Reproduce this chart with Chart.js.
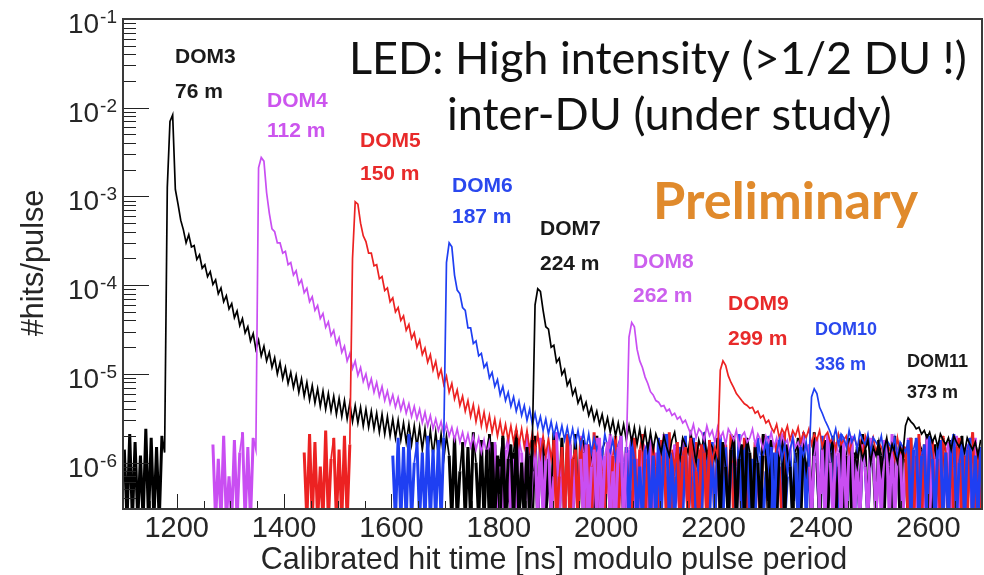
<!DOCTYPE html>
<html><head><meta charset="utf-8">
<script src="https://cdn.jsdelivr.net/npm/chart.js@4.4.1/dist/chart.umd.min.js"></script>
<style>html,body{margin:0;padding:0;background:#fff;overflow:hidden}</style>
</head><body>
<canvas id="c" width="984" height="575"></canvas>
<script>
// ---------------- DATA ----------------
const BIN_NS = 5;          // histogram bin width [ns]
const UNIT = 1e-7;         // values below are in units of 1e-7 hits/pulse
const EMPTY_BIN = 2.2e-7;  // drawn value for empty bins (just below the axis)
const domNames = ['DOM3','DOM4','DOM5','DOM6','DOM7','DOM8','DOM9','DOM10','DOM11'];
const domDistances = ['76 m','112 m','150 m','187 m','224 m','262 m','299 m','336 m','373 m'];
const domStartNs = [1100,1265,1435,1600,1775,1950,2120,2290,2460];
const xTickValues = [1200,1400,1600,1800,2000,2200,2400,2600];
const yTickExponents = [-1,-2,-3,-4,-5,-6];

const dom3 = [14,0,21,0,17,0,12,0,24,0,19,0,15,0,20,13,
12600,70000,83000,12000,
8200,5400,4200,3000,3700,2700,2800,1950,2200,1550,1700,1250,1420,1020,1150,800,930,650,760,540,620,430,510,350,420,290,340,235,285,190,240,160,205,140,175,118,152,100,134,88,118,78,104,70,96,62,88,56,80,51,74,47,68,43,64,40,60,38,56,35,53,33,50,31,47,29,44,28,42,26,40,25,38,24,36,22,35,21,33,20,31,19,30,18,28,17,27,16,26,15,25,14,24,13,23,12,22,12,21,11,20,
12,0,20,0,8,17,0,15,0,22,10,0,18,0,14,21,0,16,0,11,19,0,7,0,13,23,0,9,0,17,12,0,20,0,15,18,0,11,0,22,14,0,19,0,13,16,0,21,0,12,18,0,10,15,0,20,0,14,17];

const dom4 = [16,0,11,0,20,0,7,0,18,0,13,22,0,15,0,19,14,
21000,27500,25000,11000,
6500,4300,4000,3000,3000,2300,2400,1700,1800,1300,1450,1020,1150,820,920,650,740,520,590,420,480,335,385,270,310,215,255,175,205,140,170,115,140,96,118,82,100,70,88,62,80,56,72,50,64,46,58,42,54,39,50,36,46,33,43,31,40,28,37,26,34,24,31,23,29,21,27,20,25,18,24,17,22,16,21,15,20,14,19,13,18,12,17,11,
17,0,9,0,14,20,0,11,0,18,13,0,21,0,8,15,0,19,0,12,16,0,7,22,0,10,0,14,18,0,11,0,20,13,0,16,0,9,19,0,12,0,15,21,0,13,0,18,10,0,14,20,0,11,0,17,15,0,19,0,13,0,9,21,0,12,0,16,8,0,18,14,0,22,0];

const dom5 = [13,0,21,0,17,0,9,0,23,0,11,19,0,14,0,20,0,16,
2000,8700,8200,
5000,3600,3100,2300,2300,1650,1700,1180,1250,870,930,650,720,500,560,400,450,310,360,250,290,200,240,165,195,135,165,110,138,92,112,76,94,62,78,52,66,44,56,38,50,33,45,29,41,26,37,24,34,22,31,20,29,19,27,18,26,17,25,16,24,15,23,14,22,13,21,12,20,12,19,11,
18,0,7,15,0,21,0,11,14,0,19,0,9,16,0,22,0,13,8,0,17,0,12,20,0,10,0,15,6,0,19,0,14,21,0,11,0,16,9,0,18,13,0,22,0,7,15,0,12,19,0,10,0,17,14,0,20,0,8,13,0,18,0,11,16,0,21,0,9,15,0,19,0,12,0,17,6,0,20,14,0,11,0,18,9,0,22];

const dom6 = [12,0,19,0,15,0,21,0,10,17,0,13,0,20,0,14,0,18,0,19,
1800,3000,2700,
1300,880,800,560,520,330,330,220,235,160,170,118,132,90,104,72,86,58,72,50,62,43,55,38,49,34,44,30,40,27,36,25,33,23,31,21,29,20,27,19,26,18,25,17,24,16,23,15,22,14,21,13,
19,14,17,12,21,15,13,18,11,16,20,
0,15,0,18,11,0,9,0,14,17,0,12,0,19,0,16,21,0,13,0,10,15,0,20,0,7,19,0,11,0,22,12,0,17,0,13,20,0,15,0,10,18,0,21,0,14,16,0,11,0,19,12,0,8,20,0,13,0,18,10,0,7,14,0,12,0,16,22,0,13,0,17,11,0,20,0,15,18,0,12,0,21,14,0,10,16,0,13,0,17,9,0,15,20];

const dom7 = [14,0,17,0,12,0,20,0,11,16,0,19,0,10,0,15,0,18,
600,910,850,
520,340,320,200,210,135,150,98,112,74,86,58,68,47,56,40,48,34,42,30,38,27,35,24,32,22,30,20,28,19,27,18,26,17,25,16,24,15,23,14,22,14,21,
17,13,20,15,12,18,22,14,11,19,16,13,21,15,10,18,14,20,12,17,15,11,19,
0,17,9,0,14,20,0,11,16,0,19,13,0,15,10,0,21,12,0,18,7,0,14,20,0,16,9,0,13,19,0,17,8,15,0,22,10,0,14,18,0,13,20,0,9,16,0,12,19,0,11,15,0,21,14,0,17,10,0,18,12,0,16,9,0,20,13,0,15,11,0,19,8,0,17,14,0,21,12,0,16,10,0,19,13,0,18,15,0,11,20,0,14,9,0,17,12,0];

const dom8 = [11,0,16,0,9,14,0,19,0,12,17,0,8,0,15,20,0,13,
260,380,340,190,140,118,92,78,63,58,50,48,43,44,38,40,34,36,31,33,28,30,
25,21,27,19,24,22,18,26,20,23,17,25,19,22,16,24,21,18,23,15,20,22,17,19,24,16,21,18,14,20,17,22,15,19,13,21,16,18,12,20,15,17,13,19,14,
16,0,12,19,0,14,0,21,10,0,17,13,0,18,0,15,20,0,11,0,16,9,0,19,14,0,12,0,18,15,0,21,0,13,17,0,10,19,0,14,0,16,12,0,20,0,15,11,0,18,0,13,17,0,9,20,0,14,0,16,12,0,19,0,15];

const dom9 = [14,9,17,0,12,15,0,19,11,8,0,16,13,0,18,10,15,12,
110,140,125,95,80,70,60,55,50,46,44,41,42,36,38,32,34,28,30,
25,22,27,19,24,21,26,18,23,20,25,17,22,19,24,16,21,18,23,15,20,22,17,19,14,21,16,18,20,13,17,19,15,18,12,20,16,14,19,13,17,15,12,18,14,16,11,19,13,15,
15,0,19,0,12,21,0,16,0,14,18,0,11,0,20,13,0,17,0,15,19,0,12,0,16,22,0,14,0];

const dom10 = [12,17,9,15,0,13,18,11,16,8,14,19,10,0,15,12,17,9,
55,68,60,42,36,30,26,
22,18,24,16,21,19,15,23,17,20,14,22,18,16,21,13,19,17,15,20,12,18,16,14,19,11,17,15,13,18,
0,14,19,0,12,16,0,20,11,0,15,18,0,13,0,17,21,0,10,16,0,14,19,0,12,0,15];

const dom11 = [13,9,16,11,14,18,10,15,12,17,8,14,19,11,16,13,10,15,12,
26,32,29,27,24,25,21,23,
19,22,17,20,15,21,18,16,19,14,20,17,15,18,13,19,16,14,17,12,18];

const domSeries = [dom3,dom4,dom5,dom6,dom7,dom8,dom9,dom10,dom11];

// ---------------- STYLE ----------------
const X_MIN = 1100, X_MAX = 2700, Y_MIN = 3e-7, Y_MAX = 0.1;
const BLACK = '#000000', VIOLET = '#c94ef2', RED = '#ec2222', BLUE = '#1f3ff2';
const lineColors = [BLACK,VIOLET,RED,BLUE,BLACK,VIOLET,RED,BLUE,BLACK];
const labelColors = ['#1a1a1a','#cc55ee','#e82a2a','#2a48ee','#1a1a1a','#cc60ee','#e82a2a','#2a48ee','#1a1a1a'];
// annotation layout: left x, baseline of name, baseline of distance, font px
const labelLayout = [[175,63,98,21],[267,107,137,21],[360,147,180,21],[452,192,223,21],[540,235,270,21],[633,268,302,21],[728,310,345,21],[815,335,370,18],[907,367,398,18]];

const isEmpty = p => p.parsed.y <= EMPTY_BIN * 1.01;
const datasets = domSeries.map((vals, k) => ({
  label: domNames[k],
  data: vals.map((v, i) => ({ x: domStartNs[k] + (i + 0.5) * BIN_NS, y: v > 0 ? v * UNIT : EMPTY_BIN })),
  borderColor: lineColors[k],
  borderWidth: 1.7,
  pointRadius: 0,
  tension: 0,
  fill: false,
  order: domSeries.length - k,
  segment: { borderWidth: c => (isEmpty(c.p0) || isEmpty(c.p1)) ? 3 : 1.7 }
}));

function fitFont(ctx, text, weight, family, targetW) {
  ctx.font = weight + ' 100px ' + family;
  return 100 * targetW / ctx.measureText(text).width;
}

const overlay = {
  id: 'overlay',
  afterDatasetsDraw(chart) {
    const { ctx, chartArea: a, scales: { x, y } } = chart;
    ctx.save();
    // inward ticks
    ctx.strokeStyle = '#222'; ctx.lineWidth = 1;
    ctx.beginPath();
    for (let e = -7; e <= -1; e++) {
      for (let m = 1; m <= 9; m++) {
        const v = m * Math.pow(10, e);
        if (v < Y_MIN * 0.999 || v > Y_MAX * 1.001) continue;
        const py = Math.round(y.getPixelForValue(v)) + 0.5;
        const len = m === 1 ? 26 : 13;
        ctx.moveTo(a.left, py); ctx.lineTo(a.left + len, py);
      }
    }
    for (let t = X_MIN + 50; t < X_MAX; t += 50) {
      const px = Math.round(x.getPixelForValue(t)) + 0.5;
      const len = t % 200 === 0 ? 15 : 8;
      ctx.moveTo(px, a.bottom); ctx.lineTo(px, a.bottom - len);
    }
    ctx.stroke();
    // frame
    ctx.strokeStyle = '#3a3a3a'; ctx.lineWidth = 2;
    ctx.strokeRect(a.left, a.top, a.right - a.left, a.bottom - a.top);

    // y tick labels 10^n
    ctx.fillStyle = '#262626';
    ctx.textBaseline = 'alphabetic';
    for (const e of yTickExponents) {
      const py = y.getPixelForValue(Math.pow(10, e));
      ctx.font = '19px "Liberation Sans", Arial, sans-serif';
      const sup = String(e);
      const sw = ctx.measureText(sup).width;
      ctx.textAlign = 'right';
      ctx.fillText(sup, 117, py + 4);
      ctx.font = '28px "Liberation Sans", Arial, sans-serif';
      ctx.fillText('10', 117 - sw - 1, py + 14);
    }
    // x tick labels
    ctx.font = '29px "Liberation Sans", Arial, sans-serif';
    ctx.textAlign = 'center';
    for (const t of xTickValues) {
      ctx.fillText(String(t), x.getPixelForValue(t), 537);
    }
    // axis titles
    const xt = 'Calibrated hit time [ns] modulo pulse period';
    ctx.font = fitFont(ctx, xt, 'normal', '"Liberation Sans", Arial', 586).toFixed(1) + 'px "Liberation Sans", Arial, sans-serif';
    ctx.fillText(xt, 554, 569);
    const yt = '#hits/pulse';
    ctx.save();
    ctx.translate(43, 263); ctx.rotate(-Math.PI / 2);
    ctx.font = fitFont(ctx, yt, 'normal', '"Liberation Sans", Arial', 147).toFixed(1) + 'px "Liberation Sans", Arial, sans-serif';
    ctx.textAlign = 'center';
    ctx.fillText(yt, 0, 0);
    ctx.restore();

    // DOM labels
    ctx.textAlign = 'left';
    labelLayout.forEach((L, k) => {
      ctx.fillStyle = labelColors[k];
      ctx.font = 'bold ' + L[3] + 'px "Liberation Sans", Arial, sans-serif';
      ctx.fillText(domNames[k], L[0], L[1]);
      ctx.fillText(domDistances[k], L[0], L[2]);
    });

    // titles
    const t1 = 'LED: High intensity (>1/2 DU !)';
    const t2 = 'inter-DU (under study)';
    const fs1 = fitFont(ctx, t1, 'normal', 'Lato', 618);
    ctx.fillStyle = '#111';
    ctx.font = fs1.toFixed(1) + 'px Lato, sans-serif';
    ctx.textAlign = 'left';
    ctx.fillText(t1, 349, 74);
    ctx.fillText(t2, 447, 130);
    const t3 = 'Preliminary';
    ctx.fillStyle = '#e08a2c';
    ctx.font = 'bold ' + fitFont(ctx, t3, 'bold', 'Lato', 265).toFixed(1) + 'px Lato, sans-serif';
    ctx.fillText(t3, 653, 219);
    ctx.restore();
  }
};

new Chart(document.getElementById('c'), {
  type: 'line',
  data: { datasets },
  options: {
    responsive: false,
    animation: false,
    devicePixelRatio: 1,
    layout: { padding: { top: 19, right: 2, left: 0, bottom: 0 } },
    plugins: { legend: { display: false }, tooltip: { enabled: false } },
    scales: {
      x: {
        type: 'linear', min: X_MIN, max: X_MAX,
        grid: { display: false }, border: { display: false },
        ticks: { display: false },
        afterBuildTicks: s => { s.ticks = xTickValues.map(v => ({ value: v })); },
        afterFit: s => { s.height = 66; }
      },
      y: {
        type: 'logarithmic', min: Y_MIN, max: Y_MAX,
        grid: { display: false }, border: { display: false },
        ticks: { display: false },
        afterBuildTicks: s => { s.ticks = yTickExponents.map(e => ({ value: Math.pow(10, e) })); },
        afterFit: s => { s.width = 123; }
      }
    }
  },
  plugins: [overlay]
});
</script>
</body></html>
